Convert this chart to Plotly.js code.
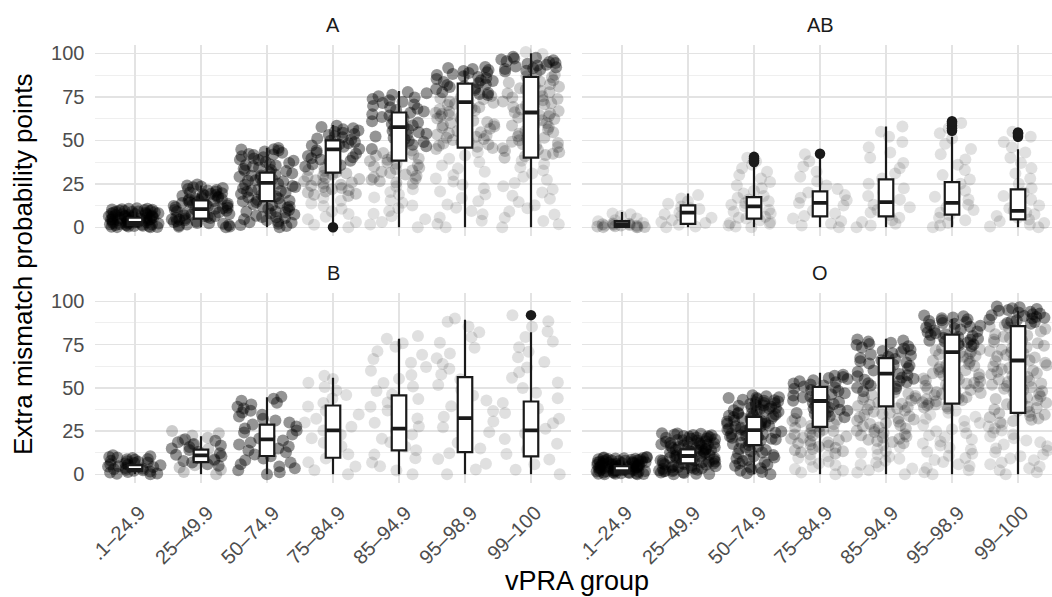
<!DOCTYPE html>
<html><head><meta charset="utf-8">
<script src="https://cdn.plot.ly/plotly-3.0.1.min.js"></script>
<style>html,body{margin:0;padding:0;background:#fff}#chart{width:1052px;height:597px}</style>
</head><body><div id="chart"></div>
<script>
// ---------------- DATA ----------------
const categories = ['.1–24.9','25–49.9','50–74.9','75–84.9','85–94.9','95–98.9','99–100'];
const facets = ['A','AB','B','O'];
const yTicks = [0,25,50,75,100];
const xTitle = 'vPRA group';
const yTitle = 'Extra mismatch probability points';

// box statistics per facet (q1, median, q3, whisker ends)
const A_q1     = [1.2, 5.0, 15.0, 31.4, 38.3, 45.8, 40.0];
const A_median = [2.5, 10.5, 25.5, 44.8, 57.6, 72.0, 66.0];
const A_q3     = [5.5, 15.5, 31.4, 50.0, 66.0, 82.6, 86.4];
const A_lower  = [0, 0, 0, 2.5, 0, 0, 0];
const A_upper  = [10, 24, 45.8, 58.8, 78.3, 90, 100];

const AB_q1     = [0.3, 2.0, 5.0, 6.3, 6.3, 7.3, 4.6];
const AB_median = [1.8, 8.4, 12.0, 14.0, 14.5, 14.0, 9.4];
const AB_q3     = [3.6, 12.6, 17.4, 20.7, 27.6, 26.0, 21.8];
const AB_lower  = [0, 0, 0, 0, 0, 0, 0];
const AB_upper  = [8.8, 19.4, 36, 40.4, 58, 52, 44.8];

const B_q1     = [1.8, 7.1, 10.6, 9.6, 13.8, 12.9, 10.4];
const B_median = [2.5, 11.0, 20.2, 25.4, 26.4, 32.5, 25.4];
const B_q3     = [5.3, 14.3, 28.7, 39.8, 45.6, 56.2, 42.1];
const B_lower  = [0, 0, 0, 0, 0, 0, 0];
const B_upper  = [9.6, 22, 44.6, 55.8, 78.3, 89.3, 82.1];

const O_q1     = [0.5, 6.3, 16.9, 27.4, 39.3, 40.9, 35.5];
const O_median = [1.8, 10.6, 25.5, 42.4, 58.2, 70.6, 65.8];
const O_q3     = [4.8, 14.4, 33.2, 50.5, 67.2, 80.8, 85.6];
const O_lower  = [0, 0, 0, 0, 0, 0, 0];
const O_upper  = [9.5, 24.2, 46, 58.7, 78.3, 89.8, 94.6];

// outliers
const A_outCat  = ['75–84.9'];
const A_outY    = [0];
const AB_outCat = ['50–74.9','50–74.9','50–74.9','50–74.9','75–84.9','95–98.9','95–98.9','95–98.9','95–98.9','95–98.9','99–100','99–100','99–100','99–100'];
const AB_outY   = [37.5, 38.5, 39.5, 40.5, 42.3, 55.5, 57, 58.5, 60, 61, 52, 53, 54, 54.5];
const B_outCat  = ['99–100'];
const B_outY    = [92];
const O_outCat  = [];
const O_outY    = [];

// individual observations (jittered points), one list per vPRA group,
// split by how crowded that part of the cloud is (sparse / medium / dense)
const A_sparse = [
 [], [], [],
 [0,1.5,3,4.6,6.1,7.6,9.1,10.7,12.2,13.7,15.2,16.8],
 [0,1.6,3.1,4.7,6.3,7.8,9.4,10.9,12.5,14.1,15.6,17.2,18.8,20.3,21.9,23.4],
 [0,1.9,3.8,5.6,7.5,9.4,11.3,13.1,15,16.9,18.8,20.6,22.5,24.4,26.3,28.1,30,31.9,33.8,35.6,37.5,39.4,41.3,43.1],
 [0,1.8,3.6,5.5,7.3,9.1,10.9,12.7,14.5,16.4,18.2,20,21.8,23.6,25.5,27.3,29.1,30.9,32.7,34.5,36.4,38.2,99.6,100.8]
];
const A_medium = [
 [], [], [],
 [18,18.7,19.3,20,20.6,21.3,21.9,22.6,23.2,23.9,24.5,25.2,25.8,26.5,27.1,27.8,28.4,29.1,29.7,30.4,31,31.7,32.3,33,33.6,34.3],
 [25,25.8,26.5,27.3,28.1,28.8,29.6,30.4,31.2,31.9,32.7,33.5,34.2,35,35.8,36.5,37.3,38.1,38.8,39.6,40.4,41.2,41.9,42.7,43.5,44.2],
 [45,45.6,46.3,46.9,47.6,48.2,48.9,49.5,50.2,50.8,51.5,52.1,52.8,53.4,54.1,54.7,55.4,56,56.7,57.3,58,58.6,59.3,59.9,60.6,61.2,61.9,62.5,63.2,63.8,64.5,65.1,65.8,66.4,67.1,67.7,68.4,69,69.7,70.3,71,71.6,72.3,72.9,73.6,74.2,74.9,75.5],
 [40,40.8,41.5,42.3,43.1,43.8,44.6,45.4,46.2,46.9,47.7,48.5,49.2,50,50.8,51.5,52.3,53.1,53.8,54.6,55.4,56.2,56.9,57.7,58.5,59.2,60,60.8,61.5,62.3,63.1,63.8,64.6,65.4,66.2,66.9,67.7,68.5,69.2,70,70.8,71.5,72.3,73.1,73.8,74.6,75.4,76.2,76.9,77.7,78.5,79.2,80,80.8,81.5,82.3,83.1,83.8,84.6,85.4,86.2,86.9,87.7,88.5]
];
const A_dense = [
 [0,0.1,0.4,0.6,0.9,1.1,1.4,1.6,1.9,2.2,2.4,2.7,2.9,3.2,3.4,3.7,4,4.2,4.5,4.7,5,5.3,5.5,5.8,6,6.3,6.5,6.8,7.1,7.3,7.6,7.8,8.1,8.4,8.6,8.9,9.1,9.4,9.6,9.9,10.2,10.4,10.7,11,
  0.2,0.8,1.3,1.8,2.3,2.8,3.3,3.9,4.4,4.9,5.4,5.9,6.4,7,7.5,8,8.5,9,9.5,10.1,10.6,0.3,1.5,3,4.6,6.2],
 [0,0.5,1,1.6,2,2.5,3.1,3.5,4,4.6,5,5.5,6.1,6.5,7,7.6,8,8.5,9.1,9.5,10,10.6,11,11.5,12.1,12.5,13,13.6,14,14.5,15.1,15.5,16,16.6,17,17.5,18.1,18.5,19,19.6,20,20.5,21.1,21.5,22,22.6,23,23.5,24.1,24.6,
  0.3,1.3,2.3,3.3,4.3,5.3,6.3,7.3,8.3,9.3,10.3,11.3,12.3,13.3,14.3,15.3,16.3,17.3,18.3,19.3],
 [0,0.7,1.3,2,2.6,3.3,4,4.6,5.3,5.9,6.6,7.3,7.9,8.6,9.2,9.9,10.6,11.2,11.9,12.5,13.2,13.9,14.5,15.2,15.8,16.5,17.2,17.8,18.5,19.1,19.8,20.5,21.1,21.8,22.4,23.1,23.8,24.4,25.1,25.7,26.4,27.1,27.7,28.4,29,29.7,30.4,31,31.7,32.3,33,33.7,34.3,35,35.6,36.3,37,37.6,38.3,38.9,39.6,40.3,40.9,41.6,42.2,42.9,43.6,44.2,44.9,45.6,
  2.9,5.8,8.9,11.8,14.9,17.7,20.8,23.7,26.8,29.8,32.7,35.8,38.7,41.8,44.7],
 [35,35.7,36.3,37,37.7,38.3,39,39.7,40.3,41,41.7,42.3,43,43.7,44.3,45,45.7,46.3,47,47.7,48.3,49,49.7,50.3,51,51.7,52.3,53,53.7,54.3,55,55.7,56.3,57,57.7,58.4],
 [45,45.8,46.6,47.4,48.2,49,49.8,50.6,51.4,52.2,53,53.8,54.6,55.4,56.2,57,57.8,58.6,59.4,60.2,61,61.8,62.6,63.4,64.2,65,65.8,66.6,67.4,68.2,69,69.8,70.6,71.4,72.2,73,73.8,74.6,75.4,76.2,77,77.8],
 [76,76.6,77.2,77.7,78.3,78.9,79.5,80,80.6,81.2,81.8,82.3,82.9,83.5,84.1,84.6,85.2,85.8,86.4,86.9,87.5,88.1,88.7,89.2,89.8,90.4,91,91.6,92.1],
 [89.5,90,90.5,91,91.5,92,92.5,93,93.5,94,94.5,95,95.5,96,96.5,97,97.5,98]
];

const AB_sparse = [
 [0,1,2.5,3.5,5,6.5,7.5,4,8],
 [0,0.5,1.5,3,4,5.5,6.5,7.5,8.5,9.5,10.5,12,13.5,15,16.5,18.5,2.5,11],
 [0,0.5,1,2,3,4,5,6,7,8,9,10,11,12,13,14,15,16,17,18,19.5,21,22.5,24,26,28,30,32,34,36,38,40,2.5,5.5],
 [0,1,2,3.5,5,6.5,8,9.5,11,12.5,14,15.5,17,18.5,20,22,24,26.5,29,32,35,38,42],
 [0,1,2,3,4,5.5,7,8.5,10,11.5,13,14.5,16,18,20,22.5,25,28,31,34,37,40,43,46,49,52,55,58],
 [0,1,2.5,4,5.5,7,8.5,10,11.5,13,14.5,16,17.5,19,21,23,25,27.5,30,33,36,39,42,45,48,51,54,57,60],
 [0,0.5,1.5,2.5,3.5,4.5,5.5,6.5,7.5,8.5,9.5,11,12.5,14,16,18,20,22.5,25,28,31,34,37,40,43,46,49,52,55]
];
const AB_medium = [
 [0,0.1,0.2,0.4,0.6,0.9,1.1,1.3,1.5,1.8,2,2.2],
 [], [], [], [], [], []
];
const AB_dense = [[], [], [], [], [], [], []];

const B_sparse = [
 [], [], [],
 [0,2.4,4.5,7,9.1,11.6,13.7,16.2,18.3,20.8,22.9,25.4,27.5,30,32.1,34.6,36.7,39.2,41.3,43.8,45.9,48.4,50.5,53,55.1,57],
 [0,2.2,4.7,6.8,9.3,11.4,13.9,16,18.5,20.6,23.1,25.2,27.7,29.8,32.3,34.4,36.9,39,41.5,43.6,46.1,48.2,50.7,52.8,55.3,57.4,59.9,62,64.5,66.6,69.1,71.2,73.7,75.8,78.3,80],
 [0,2.8,6.1,8.9,12.2,15,18.3,21.1,24.4,27.2,30.5,33.3,36.6,39.4,42.7,45.5,48.8,51.6,54.9,57.7,61,63.8,67.1,69.9,73.2,76,79.3,82.1,85.4,88.2,90],
 [0,2.7,5.9,8.6,11.8,14.5,17.7,20.4,23.6,26.3,29.5,32.2,35.4,38.1,41.3,44,47.2,49.9,53.1,55.8,59,61.7,64.9,67.6,70.8,73.5,76.7,79.4,82.6,85.3,88.5,92]
];
const B_medium = [
 [],
 [0,1.3,2.6,3.9,5.3,8,11.3,14.6,17.2,19.8,21.1,22.4,23.7,25],
 [], [], [], [], []
];
const B_dense = [
 [0,0.5,1,1.6,2.1,2.6,3.1,3.7,4.2,4.7,5.2,5.8,6.3,6.8,7.3,7.9,8.4,8.9,9.4,10,10.5,11,
  0.3,1.3,2.4,3.4,4.5,5.5,6.6,7.6,8.7,9.7],
 [5,5.9,6.8,7.7,8.6,9.5,10.4,11.3,12.2,13.1,14,14.9,15.8,16.7,17.6,18.5,19.4,20.3],
 [0,1.2,2.3,3.5,4.6,5.8,6.9,8.1,9.2,10.4,11.5,12.7,13.8,15,16.1,17.3,18.4,19.6,20.7,21.9,23,24.2,25.3,26.5,27.6,28.8,29.9,31.1,32.2,33.4,34.5,35.7,36.8,38,39.1,40.3,41.4,42.6,43.7,44.9],
 [], [], [], []
];

const O_sparse = [
 [], [], [],
 [0,1,2.1,3.1,4.2,5.2,6.3,7.3,8.4,9.4,10.5,11.5],
 [0,1.1,2.3,3.4,4.5,5.6,6.8,7.9,9,10.1,11.3,12.4,13.5,14.6,15.8,16.9],
 [0,1.2,2.4,3.6,4.8,5.9,7.1,8.3,9.5,10.7,11.9,13.1,14.3,15.4,16.6,17.8,19,20.2,21.4,22.6,23.8,24.9,26.1,27.3,28.5,29.7,30.9,32.1,33.3,34.4,35.6,36.8],
 [0,1.2,2.3,3.5,4.6,5.8,6.9,8.1,9.2,10.4,11.5,12.7,13.8,15,16.2,17.3,18.5,19.6,20.8,21.9,23.1,24.2,25.4,26.5,27.7,28.8]
];
const O_medium = [
 [], [], [],
 [12,12.7,13.3,14,14.6,15.3,15.9,16.6,17.2,17.9,18.5,19.2,19.8,20.5,21.1,21.8,22.4,23.1,23.7,24.4,25,25.7,26.3,27,27.6,28.3,28.9,29.6,30.2,30.9,31.5,32.2],
 [18,18.7,19.3,20,20.6,21.3,21.9,22.6,23.2,23.9,24.5,25.2,25.8,26.5,27.1,27.8,28.4,29.1,29.7,30.4,31,31.7,32.3,33,33.6,34.3,34.9,35.6,36.2,36.9,37.5,38.2,38.8,39.5,40.1,40.8,41.4,42.1,42.7,43.4,44,44.7,45.3,46,46.6,47.3],
 [38,38.6,39.2,39.8,40.4,41,41.6,42.2,42.8,43.4,44,44.6,45.2,45.8,46.4,47,47.6,48.2,48.8,49.4,50,50.6,51.2,51.8,52.4,53,53.6,54.2,54.8,55.4,56,56.6,57.2,57.8,58.4,59,59.6,60.2,60.8,61.4,62,62.6,63.2,63.8,64.4,65,65.6,66.2,66.8,67.4,68,68.6,69.2,69.8,70.4,71,71.6,72.2,72.8,73.4],
 [30,30.8,31.5,32.3,33,33.8,34.5,35.3,36,36.8,37.5,38.3,39,39.8,40.5,41.3,42,42.8,43.5,44.3,45,45.8,46.5,47.3,48,48.8,49.5,50.3,51,51.8,52.5,53.3,54,54.8,55.5,56.3,57,57.8,58.5,59.3,60,60.8,61.5,62.3,63,63.8,64.5,65.3,66,66.8,67.5,68.3,69,69.8,70.5,71.3,72,72.8,73.5,74.3,75,75.8,76.5,77.3,78,78.8,79.5,80.3,81,81.8,82.5,83.3,84,84.8,85.5,86.3]
];
const O_dense = [
 [0,0.2,0.5,0.7,0.9,1.2,1.4,1.6,1.8,2.1,2.3,2.5,2.8,3,3.2,3.5,3.7,3.9,4.2,4.4,4.6,4.9,5.1,5.3,5.6,5.8,6,6.3,6.5,6.7,7,7.2,7.4,7.7,7.9,8.1,8.4,8.6,8.8,9.1,9.3,9.5,9.8,10,
  0.1,0.4,0.8,1.1,1.5,1.9,2.2,2.6,2.9,3.3,3.6,4.1,4.5,4.8,5.2,5.5,5.9,6.2,6.6,6.9,7.3,7.6,8,8.3,8.7,9,9.4,9.7,0.3,2,4],
 [0,0.4,0.8,1.2,1.6,2,2.3,2.7,3.1,3.5,3.9,4.3,4.7,5.1,5.5,5.9,6.2,6.6,7,7.4,7.8,8.2,8.6,9,9.4,9.8,10.1,10.5,10.9,11.3,11.7,12.1,12.5,12.9,13.3,13.7,14,14.4,14.8,15.2,15.6,16,16.4,16.8,17.2,17.6,17.9,18.3,18.7,19.1,19.5,19.9,20.3,20.7,21.1,21.5,21.8,22.2,22.6,23,23.4,23.8,
  0.2,1,1.8,2.5,3.3,4.1,4.9,5.7,6.4,7.2,8,8.8,9.6,10.3,11.1,11.9,12.7,13.5,14.2,15,15.8,16.6,17.4,18.1,18.9,19.7,20.5,21.3,22,22.8,23.6],
 [0,0.7,1.4,2.1,2.8,3.5,4.2,4.9,5.6,6.3,7,7.7,8.4,9.1,9.8,10.5,11.2,11.9,12.6,13.3,14,14.7,15.4,16.1,16.8,17.5,18.2,18.9,19.6,20.1,20.6,21.1,21.6,22.1,22.6,23.1,23.6,24.1,24.6,25.1,25.6,26.1,26.6,27.1,27.6,28.1,28.6,29.1,29.6,30.1,30.6,31.1,31.6,32.1,32.6,33.1,33.6,34.1,34.6,35.1,35.6,36.1,36.6,37.1,37.6,38.1,38.6,39.1,39.6,40.1,40.6,41.1,41.6,42.1,42.6,43.1,43.6,44.1,44.6,45.1,45.7,
  20.3,21.8,23.3,24.8,26.3,27.8,29.3,30.8,32.3,33.8,35.3,36.8,38.3,39.8,41.3,42.8,44.3],
 [33,33.6,34.3,34.9,35.5,36.2,36.8,37.4,38.1,38.7,39.3,39.9,40.6,41.2,41.8,42.5,43.1,43.7,44.4,45,45.6,46.2,46.9,47.5,48.1,48.8,49.4,50,50.7,51.3,51.9,52.5,53.2,53.8,54.4,55.1,55.7,56.3,57,57.6],
 [48,48.7,49.3,50,50.7,51.3,52,52.7,53.3,54,54.7,55.3,56,56.7,57.3,58,58.7,59.3,60,60.7,61.3,62,62.7,63.3,64,64.7,65.3,66,66.7,67.3,68,68.7,69.3,70,70.7,71.3,72,72.7,73.3,74,74.7,75.3,76,76.7,77.3,78],
 [74,74.5,75.1,75.6,76.2,76.7,77.2,77.8,78.3,78.9,79.4,79.9,80.5,81,81.6,82.1,82.6,83.2,83.7,84.3,84.8,85.3,85.9,86.4,87,87.5,88,88.6,89.1,89.7,90.2,90.7,91.3,91.8],
 [87,87.5,88,88.5,89,89.5,90,90.5,91,91.5,92,92.5,93,93.5,94,94.5,95,95.5,96,96.5,97]
];

// ---------------- STYLE / BUILD ----------------
const W = 1052, H = 597;
const FONT = 'Liberation Sans, Arial, Helvetica, sans-serif';
const INK = '#1a1a1a';
const LAYER_ALPHA = [0.12, 0.2, 0.42];
const panels = [
  {name:'A',  xa:'x',  ya:'y',  layers:[A_sparse, A_medium, A_dense],    q1:A_q1,  med:A_median,  q3:A_q3,  lo:A_lower,  hi:A_upper,  oc:A_outCat,  oy:A_outY},
  {name:'AB', xa:'x2', ya:'y2', layers:[AB_sparse, AB_medium, AB_dense], q1:AB_q1, med:AB_median, q3:AB_q3, lo:AB_lower, hi:AB_upper, oc:AB_outCat, oy:AB_outY},
  {name:'B',  xa:'x3', ya:'y3', layers:[B_sparse, B_medium, B_dense],    q1:B_q1,  med:B_median,  q3:B_q3,  lo:B_lower,  hi:B_upper,  oc:B_outCat,  oy:B_outY},
  {name:'O',  xa:'x4', ya:'y4', layers:[O_sparse, O_medium, O_dense],    q1:O_q1,  med:O_median,  q3:O_q3,  lo:O_lower,  hi:O_upper,  oc:O_outCat,  oy:O_outY}
];

const traces = [];
panels.forEach(p => {
  p.layers.forEach((layer, li) => {
    const px = [], py = [];
    layer.forEach((vals, i) => vals.forEach(v => { px.push(categories[i]); py.push(v); }));
    if (!py.length) return;
    traces.push({
      type:'box', x:px, y:py, xaxis:p.xa, yaxis:p.ya,
      boxpoints:'all', jitter:1, pointpos:0, width:0.9,
      line:{width:0, color:'rgba(0,0,0,0)'}, fillcolor:'rgba(0,0,0,0)',
      marker:{color:'rgba(0,0,0,' + LAYER_ALPHA[li] + ')', size:12, line:{width:0}},
      hoverinfo:'skip', showlegend:false
    });
  });
  traces.push({
    type:'box', x:categories, q1:p.q1, median:p.med, q3:p.q3,
    lowerfence:p.lo, upperfence:p.hi, xaxis:p.xa, yaxis:p.ya,
    width:0.22, whiskerwidth:0, boxpoints:false,
    fillcolor:'#ffffff', line:{color:INK, width:2.2},
    hoverinfo:'skip', showlegend:false
  });
  traces.push({
    type:'scatter', mode:'markers', x:categories, y:p.med, xaxis:p.xa, yaxis:p.ya,
    marker:{symbol:'line-ew', size:10, line:{width:3.8, color:INK}},
    hoverinfo:'skip', showlegend:false
  });
  if (p.oy.length) traces.push({
    type:'scatter', mode:'markers', x:p.oc, y:p.oy, xaxis:p.xa, yaxis:p.ya,
    marker:{color:INK, size:10.5, line:{width:0}},
    hoverinfo:'skip', showlegend:false
  });
});

const px2fx = v => v / W, px2fy = v => 1 - v / H;
const xLeft = [px2fx(95.4), px2fx(570.6)], xRight = [px2fx(582.4), 1];
const yTopD = [px2fy(236), px2fy(45)], yBotD = [px2fy(483), px2fy(293)];

function xAxis(domain, anchor, range) {
  return {domain, anchor, range, type:'category', categoryorder:'array', categoryarray:categories,
    showgrid:true, gridcolor:'#e3e3e3', gridwidth:1.6, zeroline:false, showline:false,
    ticks:'', showticklabels:false, fixedrange:true};
}
function yAxis(domain, anchor, labels) {
  return {domain, anchor, range:[-5,104.8], tickmode:'array', tickvals:yTicks,
    showgrid:true, gridcolor:'#e3e3e3', gridwidth:1.6, zeroline:false, showline:false,
    ticks:'', showticklabels:labels, ticklabelstandoff:10,
    tickfont:{family:FONT, size:20, color:'#4d4d4d'},
    minor:{tickvals:[12.5,37.5,62.5,87.5], showgrid:true, gridcolor:'#efefef', gridwidth:1},
    fixedrange:true};
}

const annotations = [];
const stripY = [px2fy(25), px2fy(25), px2fy(273), px2fy(273)];
const stripX = [px2fx(333), px2fx(820), px2fx(333), px2fx(820)];
panels.forEach((p, i) => annotations.push({
  text:p.name, xref:'paper', yref:'paper', x:stripX[i], y:stripY[i],
  xanchor:'center', yanchor:'middle', showarrow:false,
  font:{family:FONT, size:20, color:INK}
}));
['x3', 'x4'].forEach(xr => {
  categories.forEach(c => annotations.push({
    text:c, xref:xr, yref:'paper', x:c, y:px2fy(499), xshift:-17,
    xanchor:'center', yanchor:'top', textangle:-45, showarrow:false,
    font:{family:FONT, size:20, color:'#4d4d4d'}
  }));
});
annotations.push({text:xTitle, xref:'paper', yref:'paper', x:px2fx(576.5), y:px2fy(581),
  xanchor:'center', yanchor:'middle', showarrow:false, font:{family:FONT, size:27, color:'#000'}});
annotations.push({text:yTitle, xref:'paper', yref:'paper', x:px2fx(23), y:px2fy(265),
  xanchor:'center', yanchor:'middle', textangle:-90, showarrow:false, font:{family:FONT, size:26, color:'#000'}});

const layout = {
  width:W, height:H, margin:{l:0, r:0, t:0, b:0},
  paper_bgcolor:'#ffffff', plot_bgcolor:'#ffffff',
  showlegend:false, boxmode:'overlay',
  font:{family:FONT},
  xaxis:  xAxis(xLeft,  'y',  [-0.6, 6.6]),
  xaxis2: xAxis(xRight, 'y2', [-0.6, 6.515]),
  xaxis3: xAxis(xLeft,  'y3', [-0.6, 6.6]),
  xaxis4: xAxis(xRight, 'y4', [-0.6, 6.515]),
  yaxis:  yAxis(yTopD, 'x',  true),
  yaxis2: yAxis(yTopD, 'x2', false),
  yaxis3: yAxis(yBotD, 'x3', true),
  yaxis4: yAxis(yBotD, 'x4', false),
  annotations
};

Plotly.newPlot('chart', traces, layout, {displayModeBar:false, staticPlot:true});
</script>
</body></html>
